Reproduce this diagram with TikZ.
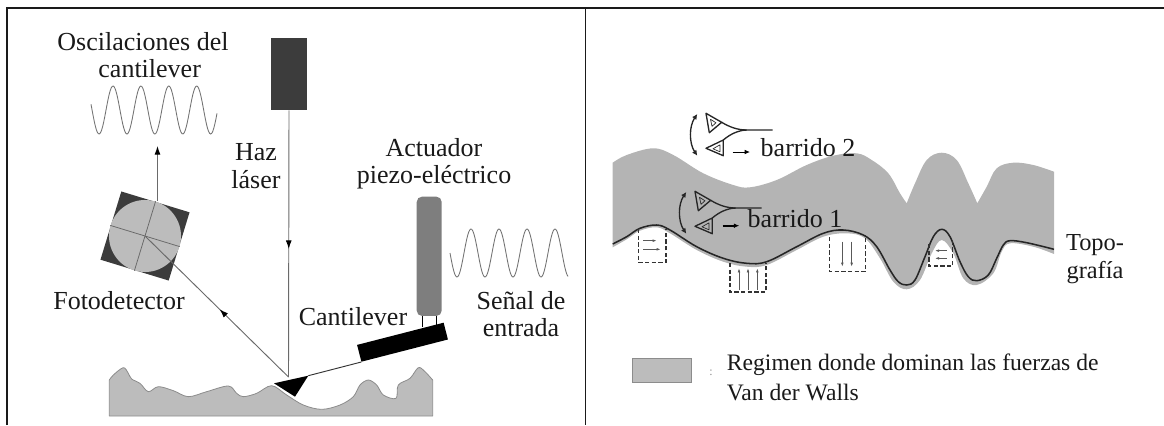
\documentclass[tikz,border=0pt]{standalone}
\usepackage{fontspec}
\setmainfont{Liberation Serif}
\usetikzlibrary{arrows.meta,decorations.markings}
\definecolor{frame}{HTML}{1A1A1A}
\definecolor{beamgray}{HTML}{6A6A6A}
\definecolor{darkbox}{HTML}{3C3C3C}
\definecolor{discgray}{HTML}{BCBCBC}
\definecolor{piezogray}{HTML}{7E7E7E}
\definecolor{bandgray}{HTML}{B4B4B4}
\tikzset{
  label text/.style={inner sep=0pt,align=center,text=black!90,font=\fontsize{19.5}{20.5}\selectfont},
  note text/.style={inner sep=0pt,align=left,anchor=base west,text=black!90,font=\fontsize{17.7}{22.5}\selectfont},
  frame line/.style={draw=frame,line width=1.1pt},
  wave line/.style={draw=black!55,line width=.65pt},
  beam line/.style={draw=beamgray,line width=.7pt},
  beam tip/.style={-{Latex[length=6.5pt,width=4.5pt,black]}},
  mid tip/.style={postaction={decorate},decoration={markings,mark=at position #1 with {\arrow{Latex[length=6.5pt,width=4.5pt,black]}}}},
  gap box/.style={draw=black!80,line width=.9pt,dash pattern=on 3.2pt off 1.8pt},
  force arrow/.style={draw=black!65,line width=.5pt,-{Latex[length=3pt,width=2pt]}},
  probe edge/.style={draw=black!85,line width=1pt,line join=round},
  pics/probe/.style={code={
    \draw[probe edge] (0,0) -- (3.3,19.4) -- (15.7,9) -- cycle;
    \draw[probe edge,line width=.5pt] (4.5,6) -- (6,13) -- (10,9.5) -- cycle;
    \draw[probe edge] (0,35) -- (17.3,42.4) -- (17.3,26.7) -- cycle;
    \draw[probe edge,line width=.5pt] (7,35.5) -- (14,38.5) -- (14,31.5) -- cycle;
    \draw[probe edge] (15.7,9) .. controls (24,14) and (32,16.7) .. (40.7,16.7) -- (66.7,16.7);
    \draw[probe edge] (17.3,26.7) .. controls (24,21) and (32,17) .. (40.7,16.7);
    \draw[probe edge,{Latex[length=4pt,width=4pt]}-{Latex[length=4pt,width=4pt]}] (-8.7,0.7) .. controls (-17,13) and (-17,30) .. (-8.7,42.4);
  }}
}
\begin{document}
\begin{tikzpicture}[x=.75pt,y=-.75pt]
\useasboundingbox (0,0) rectangle (1164,425);

% Panel rules
\coordinate (topleft) at (7,8);
\coordinate (topmid) at (585.5,8);
\coordinate (topright) at (1164,8);
\coordinate (bottomleft) at (7,425);
\coordinate (bottommid) at (585.5,425);
\draw[frame line] (bottomleft) -- (topleft) -- (topright);
\draw[frame line] (topmid) -- (bottommid);

% Sample surface under the tip
\begin{scope}[shift={(90,180)},x=.25pt,y=-.25pt]
  \draw[fill=discgray,draw=black!45,line width=.6pt,line join=round]
    plot[smooth,tension=.55] coordinates {(58,600) (70,585) (100,563) (115,580) (125,597) (150,610) (175,635) (205,620) (250,632) (295,650) (350,635) (415,618) (440,640) (460,650) (500,640) (545,617) (590,645) (640,675) (695,688) (750,675) (790,650) (810,615) (835,600) (860,615) (880,645) (918,655) (925,615) (960,595) (985,563) (1005,575) (1028,600)}
    -- (1028,708) -- (58,708) -- cycle;
\end{scope}

% Laser head and optical path
\node[fill=darkbox,minimum width=27pt,minimum height=54pt,inner sep=0pt] (laser) at (289,74) {};
\coordinate (spot) at (288.5,377);
\node[fill=darkbox,rotate=-17,minimum size=53.5pt,inner sep=0pt] (detector) at (145,236) {};
\node[circle,fill=discgray,rotate=-17,minimum size=54pt,inner sep=0pt] (disc) at (145,236) {};
\draw[beam line,line width=.55pt,draw=black!60] (disc.north) -- (disc.south);
\draw[beam line,line width=.55pt,draw=black!60] (disc.west) -- (disc.east);
\draw[beam line,mid tip=.52] (laser.south) -- (spot);
\draw[beam line,mid tip=.48] (spot) -- (disc.center);
\coordinate (discexit) at (157.5,201);
\coordinate (upperend) at (157.5,146);
\draw[beam line,beam tip] (discexit) -- (upperend);

% Cantilever, tip and actuator
\node[fill=piezogray,rounded corners=4pt,minimum width=18.75pt,minimum height=89.5pt,inner sep=0pt] (piezo) at (429.2,256.3) {};
\node[fill=black,rotate=14.4,minimum width=67pt,minimum height=13pt,inner sep=0pt] (block) at (402.5,342.2) {};
\draw[black,line width=.9pt] ([xshift=-4.9pt]piezo.south) -- +(0,11);
\draw[black,line width=.9pt] ([xshift=5.6pt]piezo.south) -- +(0,9);
\coordinate (tipa) at (274,383.3);
\coordinate (tipb) at (308.3,375.7);
\coordinate (tipc) at (295,396.7);
\fill[black] (tipa) -- (tipb) -- (tipc) -- cycle;
\draw[black!80,line width=.7pt] (tipb) -- (block.south west);

% Oscillation traces
\draw[wave line] plot[domain=91:217,samples=120] (\x,{110-24*cos((\x-113)/27.9*360)});
\draw[wave line] plot[domain=450:568,samples=120] (\x,{253-24*cos((\x-471)/28*360)});

% Labels of the left panel
\node[label text] (osc) at (143,55) {Oscilaciones del\\\hspace*{10pt}cantilever};
\node[label text] (haz) at (256,166) {Haz\\láser};
\node[label text] (act) at (434,164) {Actuador\\piezo-eléctrico};
\node[label text] (foto) at (119,301) {Fotodetector};
\node[label text] (cant) at (353,317) {Cantilever};
\node[label text] (senal) at (521,314) {Señal de\\entrada};

% Van der Waals band over the topography
\fill[bandgray]
  plot[smooth,tension=.6] coordinates {(612.7,162.7) (626.7,155) (653.3,148.3) (673.3,155) (703.3,173.3) (733.3,185) (750,187.3) (776.7,180) (806.7,165) (833.3,155.7) (856.7,153.3) (871.7,160) (888.3,173.3) (900,193.3) (906.7,203.3)}
  -- plot[smooth,tension=.6] coordinates {(906.7,203.3) (915,183.3) (926.7,160) (941.7,152.7) (956.7,160) (968.3,183.3) (977.3,203.3)}
  -- plot[smooth,tension=.6] coordinates {(977.3,203.3) (986.7,186.7) (996.7,168.3) (1013.3,162.7) (1033.3,165) (1054,171.7)}
  -- plot[smooth,tension=.6] coordinates {(1054,254) (1033.3,246.7) (1010,243.3) (1001.7,251.7) (993.3,273.3) (976.7,285) (963.3,278.3) (953.3,253.3) (941.7,240) (931.7,253.3) (920,280) (906.7,289.3) (893.3,281.7) (880,258.3) (865,238.3) (846.7,233.3) (823.3,236.7) (796.7,250) (766.7,265) (746.7,266.7) (723.3,261.7) (696.7,250) (670,233.3) (656.7,227.3) (640,230.7) (626.7,239.3) (612.7,247.3)}
  -- cycle;
\draw[black!85,line width=1.15pt]
  plot[smooth,tension=.6] coordinates {(612.7,244) (626.7,236.7) (640,228.3) (656.7,225) (670,230) (696.7,246.7) (723.3,258.3) (746.7,263.3) (766.7,261.7) (796.7,246.7) (823.3,233.3) (843.3,230) (863.3,235) (876.7,246.7) (890,270) (898.3,281.7) (906.7,285) (915,280) (925,256.7) (933.3,236.7) (941.7,229.3) (950,236.7) (960,261.7) (968.3,276.7) (976.7,280.7) (988.3,275) (996.7,258.3) (1003.3,245) (1010,240.7) (1026.7,242.7) (1054,249.3)};

% Dashed sampling windows below the surface
\draw[gap box] (638.7,229) -- (638.7,262.7) -- (666,262.7) -- (666,229);
\draw[gap box] (730,263) -- (730,292) -- (766,292) -- (766,263);
\draw[gap box] (829.3,237) -- (829.3,271.7) -- (865.3,271.7) -- (865.3,235);
\draw[gap box] (929,244) -- (929,266) -- (952.7,266) -- (952.7,240);
\begin{scope}[shift={(590,90)},x=.25pt,y=-.25pt]
  \draw[force arrow] (160,452) -- (200,452);
  \draw[force arrow] (160,478) -- (212,478);
  \draw[force arrow] (447,600) -- (447,535);
  \draw[force arrow] (474,600) -- (474,535);
  \draw[force arrow] (502,600) -- (502,535);
  \draw[force arrow] (757,455) -- (757,530);
  \draw[force arrow] (785,455) -- (785,530);
\end{scope}
\begin{scope}[shift={(800,130)},x=.25pt,y=-.25pt]
  \draw[force arrow] (440,362) -- (405,362);
  \draw[force arrow] (440,385) -- (405,385);
\end{scope}

% Scanning probes
\pic at (706,113.3) {probe};
\pic at (695,191.3) {probe};
\coordinate (scanA) at (732.7,152);
\coordinate (scanAend) at (750,152);
\coordinate (scanB) at (722.7,225.7);
\coordinate (scanBend) at (739.3,225.7);
\draw[black,line width=.7pt,-{Latex[length=4pt,width=3.5pt]}] (scanA) -- (scanAend);
\draw[black,line width=1.3pt,-{Latex[length=4pt,width=3.5pt]}] (scanB) -- (scanBend);

% Labels of the right panel
\node[label text,anchor=base] (b2) at (808,156) {barrido 2};
\node[label text,anchor=base] (b1) at (795,227.7) {barrido 1};
\node[label text,font=\fontsize{18.3}{21.5}\selectfont] (topo) at (1095,259) {Topo-\\grafía};

% Legend
\node[fill=discgray,draw=black!45,line width=.6pt,minimum width=44pt,minimum height=18.5pt,inner sep=0pt] (swatch) at (662.2,370.3) {};
\node[text=black!45,inner sep=0pt,font=\fontsize{9}{9}\selectfont] (colon) at (711,373) {:};
\node[note text] (legend) at (726.7,400.7) {Regimen donde dominan las fuerzas de\\Van der Walls};
\end{tikzpicture}
\end{document}
